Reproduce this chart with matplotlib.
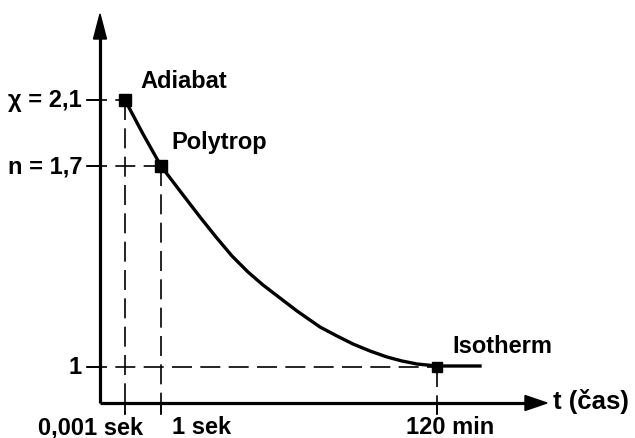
import matplotlib
matplotlib.use("Agg")
import matplotlib.pyplot as plt
from matplotlib.patches import Polygon

plt.rcParams['font.family'] = ['Liberation Sans', 'DejaVu Sans']
plt.rcParams['font.weight'] = 'bold'

# schematic coordinates: time position along the axis, exponent level above the axis
curve_t = [0.25, 0.43, 0.61, 0.80, 1.00, 1.16, 1.32, 1.48, 1.63, 1.80, 1.97,
           2.20, 2.37, 2.53, 2.70, 2.87, 3.02, 3.17, 3.37, 3.80]
curve_n = [3.03, 2.69, 2.37, 2.12, 1.86, 1.66, 1.47, 1.31, 1.18, 1.05, 0.92,
           0.76, 0.67, 0.59, 0.52, 0.46, 0.42, 0.39, 0.37, 0.37]

state_names = ["Adiabat", "Polytrop", "Isotherm"]
state_t = [0.25, 0.61, 3.37]
state_n = [3.03, 2.37, 0.36]

y_tick_labels = ["χ = 2,1", "n = 1,7", "1"]
x_tick_labels = ["0,001 sek", "1 sek", "120 min"]

fig = plt.figure(figsize=(6.35, 4.39), dpi=100)
ax = fig.add_axes([0, 0, 1, 1])
ax.set_xlim(-1.00, 5.35)
ax.set_ylim(-0.35, 4.04)
ax.axis('off')

fs = 17
dash = dict(color='black', lw=1.2, dashes=(12, 5))

# axes with arrow heads
ax.plot([0, 0], [0, 3.70], color='black', lw=2.3, solid_capstyle='butt')
ax.plot([0, 4.30], [0, 0], color='black', lw=2.3, solid_capstyle='butt')
ax.add_patch(Polygon([[0, 3.89], [-0.065, 3.64], [0.065, 3.64]], closed=True, color='black'))
ax.add_patch(Polygon([[4.47, 0], [4.25, 0.075], [4.25, -0.075]], closed=True, color='black'))

# guide lines from each state to the axes
for t, n in zip(state_t, state_n):
    ax.plot([-0.13, t], [n, n], **dash)
    ax.plot([-0.13, 0], [n, n], color='black', lw=1.3)
    ax.plot([t, t], [n, -0.11], **dash)
    ax.plot([t, t], [0, -0.11], color='black', lw=1.3)

# curve and state points
ax.plot(curve_t, curve_n, color='black', lw=2.4, solid_joinstyle='round')
ax.plot(state_t[:2], state_n[:2], 's', color='black', ms=9)
ax.plot(state_t[2:], state_n[2:], 's', color='black', ms=7.5)

# labels
label_dx = [0.15, 0.10, 0.15]
label_dy = [0.19, 0.24, 0.21]
for name, t, n, dx, dy in zip(state_names, state_t, state_n, label_dx, label_dy):
    ax.text(t + dx, n + dy, name, fontsize=fs, ha='left', va='center')

for lab, n in zip(y_tick_labels, state_n):
    ax.text(-0.18, n, lab, fontsize=fs, ha='right', va='center')

x_label_pos = [-0.09, 0.72, 3.50]
x_label_ha = ['center', 'left', 'center']
for lab, t, ha in zip(x_tick_labels, x_label_pos, x_label_ha):
    ax.text(t, -0.24, lab, fontsize=fs, ha=ha, va='center')

ax.text(4.53, 0.02, "t (čas)", fontsize=18.5, ha='left', va='center')

fig.savefig("out.png", dpi=100)
